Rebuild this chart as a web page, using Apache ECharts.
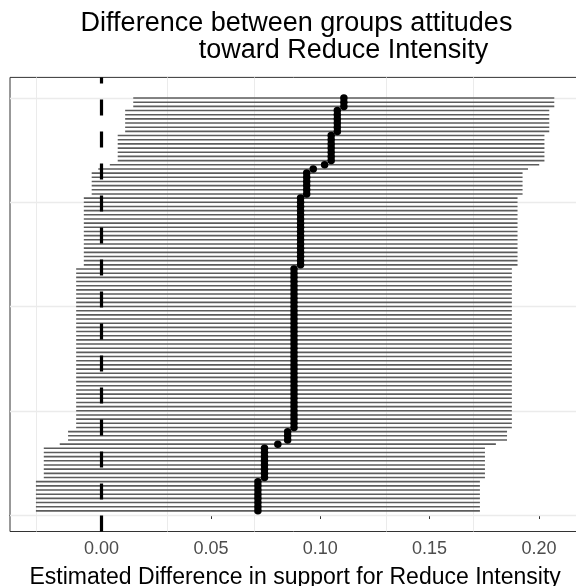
<!DOCTYPE html>
<html>
<head>
<meta charset="utf-8">
<script src="https://cdn.jsdelivr.net/npm/echarts@6/dist/echarts.min.js"></script>
<style>
  html, body { margin: 0; padding: 0; background: #ffffff; }
  #chart { width: 576px; height: 586px; }
</style>
</head>
<body>
<div id="chart"></div>
<script>
// Estimated differences, ordered by rank (rank 1 at the bottom, rank 100 at the top)
const estimate = [
  0.0715, 0.0715, 0.0715, 0.0715, 0.0715, 0.0715, 0.0715, 0.0715, 0.0745, 0.0745,
  0.0745, 0.0745, 0.0745, 0.0745, 0.0745, 0.0745, 0.0806, 0.0851, 0.0851, 0.0851,
  0.0880, 0.0880, 0.0880, 0.0880, 0.0880, 0.0880, 0.0880, 0.0880, 0.0880, 0.0880,
  0.0880, 0.0880, 0.0880, 0.0880, 0.0880, 0.0880, 0.0880, 0.0880, 0.0880, 0.0880,
  0.0880, 0.0880, 0.0880, 0.0880, 0.0880, 0.0880, 0.0880, 0.0880, 0.0880, 0.0880,
  0.0880, 0.0880, 0.0880, 0.0880, 0.0880, 0.0880, 0.0880, 0.0880, 0.0880, 0.0910,
  0.0910, 0.0910, 0.0910, 0.0910, 0.0910, 0.0910, 0.0910, 0.0910, 0.0910, 0.0910,
  0.0910, 0.0910, 0.0910, 0.0910, 0.0910, 0.0910, 0.0938, 0.0938, 0.0938, 0.0938,
  0.0938, 0.0938, 0.0968, 0.1020, 0.1050, 0.1050, 0.1050, 0.1050, 0.1050, 0.1050,
  0.1050, 0.1078, 0.1078, 0.1078, 0.1078, 0.1078, 0.1078, 0.1108, 0.1108, 0.1108
];
// Lower confidence bounds, same order
const lower = [
  -0.0300, -0.0300, -0.0300, -0.0300, -0.0300, -0.0300, -0.0300, -0.0300, -0.0264, -0.0264,
  -0.0264, -0.0264, -0.0264, -0.0264, -0.0264, -0.0264, -0.0191, -0.0153, -0.0153, -0.0153,
  -0.0116, -0.0116, -0.0116, -0.0116, -0.0116, -0.0116, -0.0116, -0.0116, -0.0116, -0.0116,
  -0.0116, -0.0116, -0.0116, -0.0116, -0.0116, -0.0116, -0.0116, -0.0116, -0.0116, -0.0116,
  -0.0116, -0.0116, -0.0116, -0.0116, -0.0116, -0.0116, -0.0116, -0.0116, -0.0116, -0.0116,
  -0.0116, -0.0116, -0.0116, -0.0116, -0.0116, -0.0116, -0.0116, -0.0116, -0.0116, -0.0081,
  -0.0081, -0.0081, -0.0081, -0.0081, -0.0081, -0.0081, -0.0081, -0.0081, -0.0081, -0.0081,
  -0.0081, -0.0081, -0.0081, -0.0081, -0.0081, -0.0081, -0.0045, -0.0045, -0.0045, -0.0045,
  -0.0045, -0.0045, -0.0015, 0.0038, 0.0074, 0.0074, 0.0074, 0.0074, 0.0074, 0.0074,
  0.0074, 0.0108, 0.0108, 0.0108, 0.0108, 0.0108, 0.0108, 0.0145, 0.0145, 0.0145
];
// Upper confidence bounds, same order
const upper = [
  0.1730, 0.1730, 0.1730, 0.1730, 0.1730, 0.1730, 0.1730, 0.1730, 0.1753, 0.1753,
  0.1753, 0.1753, 0.1753, 0.1753, 0.1753, 0.1753, 0.1803, 0.1854, 0.1854, 0.1854,
  0.1876, 0.1876, 0.1876, 0.1876, 0.1876, 0.1876, 0.1876, 0.1876, 0.1876, 0.1876,
  0.1876, 0.1876, 0.1876, 0.1876, 0.1876, 0.1876, 0.1876, 0.1876, 0.1876, 0.1876,
  0.1876, 0.1876, 0.1876, 0.1876, 0.1876, 0.1876, 0.1876, 0.1876, 0.1876, 0.1876,
  0.1876, 0.1876, 0.1876, 0.1876, 0.1876, 0.1876, 0.1876, 0.1876, 0.1876, 0.1902,
  0.1902, 0.1902, 0.1902, 0.1902, 0.1902, 0.1902, 0.1902, 0.1902, 0.1902, 0.1902,
  0.1902, 0.1902, 0.1902, 0.1902, 0.1902, 0.1902, 0.1925, 0.1925, 0.1925, 0.1925,
  0.1925, 0.1925, 0.1950, 0.2001, 0.2025, 0.2025, 0.2025, 0.2025, 0.2025, 0.2025,
  0.2025, 0.2047, 0.2047, 0.2047, 0.2047, 0.2047, 0.2047, 0.2070, 0.2070, 0.2070
];

const xTicks = [0, 0.05, 0.10, 0.15, 0.20];
const xMinorGrid = [-0.025, 0.025, 0.075, 0.125, 0.175];
const yGrid = [0, 25, 50, 75, 100];
const titleLines = ['Difference between groups attitudes', 'toward Reduce Intensity'];
const xTitle = 'Estimated Difference in support for Reduce Intensity';

const FONT = '"Liberation Sans", Arial, Helvetica, sans-serif';

// Axis ranges padded by 5% on each side
const lo = Math.min(...lower), hi = Math.max(...upper);
const xPad = (hi - lo) * 0.05;
const xMin = lo - xPad, xMax = hi + xPad;
const n = estimate.length;
const yPad = (n - 1) * 0.05;
const yMin = 1 - yPad, yMax = n + yPad;

const ciData = lower.map((l, i) => [l, upper[i], i + 1]);
const pointData = estimate.map((e, i) => [e, i + 1]);

const chart = echarts.init(document.getElementById('chart'), null, { renderer: 'canvas' });

chart.setOption({
  animation: false,
  backgroundColor: '#ffffff',
  textStyle: { fontFamily: FONT },
  graphic: [
    {
      type: 'text', x: 296.5, y: 23.5, silent: true,
      style: { text: titleLines[0], fill: '#000000', font: '27px ' + FONT,
               align: 'center', verticalAlign: 'middle', textAlign: 'center', textVerticalAlign: 'middle' }
    },
    {
      type: 'text', x: 343.5, y: 51, silent: true,
      style: { text: titleLines[1], fill: '#000000', font: '27px ' + FONT,
               align: 'center', verticalAlign: 'middle', textAlign: 'center', textVerticalAlign: 'middle' }
    }
  ],
  grid: {
    left: 10, right: -4.2, top: 77.4, bottom: 54.5,
    show: true, backgroundColor: '#ffffff', borderColor: '#333333', borderWidth: 1,
    containLabel: false, outerBoundsMode: 'none'
  },
  xAxis: {
    type: 'value', min: xMin, max: xMax,
    axisLine: { show: true, lineStyle: { color: '#333333', width: 1 } },
    axisTick: { show: true, customValues: xTicks, length: 4, lineStyle: { color: '#333333', width: 1 } },
    axisLabel: { customValues: xTicks, formatter: v => v.toFixed(2), color: '#4d4d4d',
                 fontSize: 18, margin: 9, fontFamily: FONT },
    splitLine: { show: false },
    name: xTitle, nameLocation: 'middle', nameGap: 35,
    nameTextStyle: { fontSize: 23, color: '#000000', fontFamily: FONT }
  },
  yAxis: {
    type: 'value', min: yMin, max: yMax,
    axisLine: { show: false }, axisTick: { show: false }, axisLabel: { show: false },
    splitLine: { show: false }
  },
  series: [
    {
      // panel grid lines, kept underneath the intervals
      type: 'scatter', data: [], z: 1, silent: true,
      markLine: {
        z: 1, silent: true, symbol: 'none', animation: false, label: { show: false },
        data: [
          ...xMinorGrid.map(v => ({ xAxis: v, lineStyle: { color: '#ebebeb', width: 1, type: 'solid' } })),
          ...yGrid.map(v => ({ yAxis: v, lineStyle: { color: '#ebebeb', width: 1.3, type: 'solid' } }))
        ]
      }
    },
    {
      // confidence intervals
      type: 'custom', z: 2, silent: true,
      data: ciData,
      encode: { x: [0, 1], y: 2 },
      renderItem: function (params, api) {
        const p1 = api.coord([api.value(0), api.value(2)]);
        const p2 = api.coord([api.value(1), api.value(2)]);
        return {
          type: 'line',
          shape: { x1: p1[0], y1: p1[1], x2: p2[0], y2: p2[1] },
          style: { stroke: '#5c5c5c', lineWidth: 1.6 }
        };
      }
    },
    {
      // reference line at zero
      type: 'scatter', data: [], z: 3, silent: true,
      markLine: {
        z: 3, silent: true, symbol: 'none', animation: false, label: { show: false },
        data: [{ xAxis: 0, lineStyle: { color: '#000000', width: 3.2, type: [16, 16] } }]
      }
    },
    {
      // point estimates
      type: 'scatter', z: 4, silent: true,
      data: pointData,
      symbol: 'circle', symbolSize: 7.5,
      itemStyle: { color: '#000000', opacity: 1 }
    }
  ]
});
</script>
</body>
</html>
